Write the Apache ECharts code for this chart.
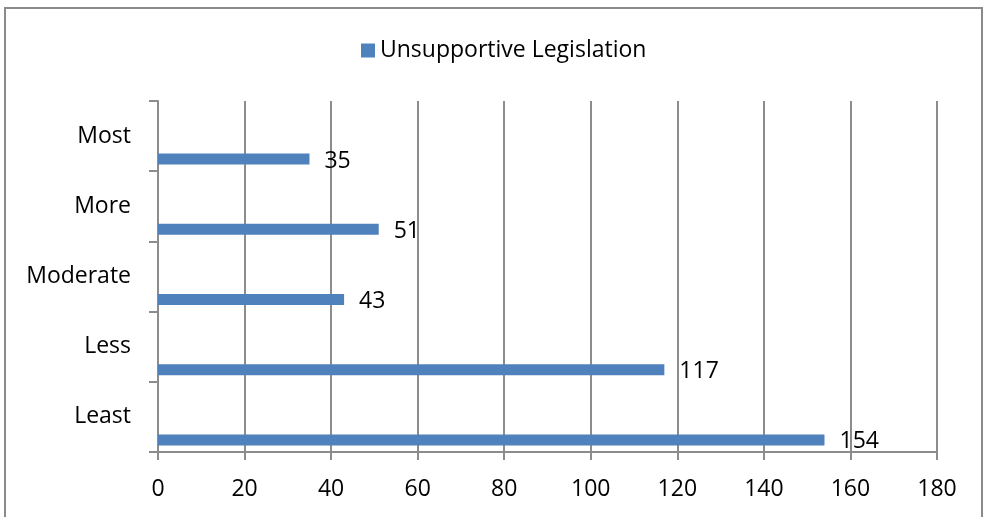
<!DOCTYPE html>
<html>
<head>
<meta charset="utf-8">
<script src="https://cdn.jsdelivr.net/npm/echarts@6/dist/echarts.min.js"></script>
<style>
  html, body { margin: 0; padding: 0; background: #fff; }
  #chart { width: 987px; height: 517px; }
</style>
</head>
<body>
<div id="chart"></div>
<script>
// Ratings, listed bottom to top on the category axis
const categories = ['Least', 'Less', 'Moderate', 'More', 'Most'];
const seriesName = 'Unsupportive Legislation';
const values = [154, 117, 43, 51, 35];
const xTicks = { min: 0, max: 180, interval: 20 };

const FONT = '"Open Sans", "Noto Sans", sans-serif';
const GRID = '#8c8c8c';

const chart = echarts.init(document.getElementById('chart'), null, { renderer: 'canvas' });

chart.setOption({
  animation: false,
  backgroundColor: '#fff',
  graphic: [{
    type: 'rect',
    shape: { x: 5, y: 8, width: 977, height: 520 },
    style: { fill: 'none', stroke: '#8a8a8a', lineWidth: 2 },
    silent: true
  }],
  legend: {
    data: [seriesName],
    top: 34,
    left: 356,
    itemWidth: 14,
    itemHeight: 14,
    itemGap: 7,
    icon: 'rect',
    textStyle: { fontFamily: FONT, fontSize: 23, color: '#000' }
  },
  grid: { left: 158, right: 50, top: 101, bottom: 65, containLabel: false },
  xAxis: {
    type: 'value',
    min: xTicks.min,
    max: xTicks.max,
    interval: xTicks.interval,
    axisLine: { show: true, lineStyle: { color: GRID, width: 2 } },
    axisTick: { show: true, length: 8, lineStyle: { color: GRID, width: 2 } },
    axisLabel: { margin: 26, fontFamily: FONT, fontSize: 23, color: '#000' },
    splitLine: { show: true, lineStyle: { color: GRID, width: 2 } }
  },
  yAxis: {
    type: 'category',
    data: categories,
    axisLine: { show: true, lineStyle: { color: GRID, width: 2 } },
    axisTick: { show: true, length: 9, lineStyle: { color: GRID, width: 2 } },
    axisLabel: { margin: 27, padding: [5, 0, 0, 0], fontFamily: FONT, fontSize: 23, color: '#000' },
    splitLine: { show: false }
  },
  series: [
    {
      // empty series that reserves the upper slot of each category band
      name: '_spacer',
      type: 'bar',
      data: [],
      barWidth: 11,
      barGap: '318%'
    },
    {
      name: seriesName,
      type: 'bar',
      data: values,
      barWidth: 11,
      barGap: '318%',
      itemStyle: { color: '#4f81bd' },
      label: {
        show: true,
        position: 'right',
        distance: 15,
        offset: [0, 2],
        fontFamily: FONT,
        fontSize: 23,
        color: '#000'
      }
    }
  ]
});
</script>
</body>
</html>
